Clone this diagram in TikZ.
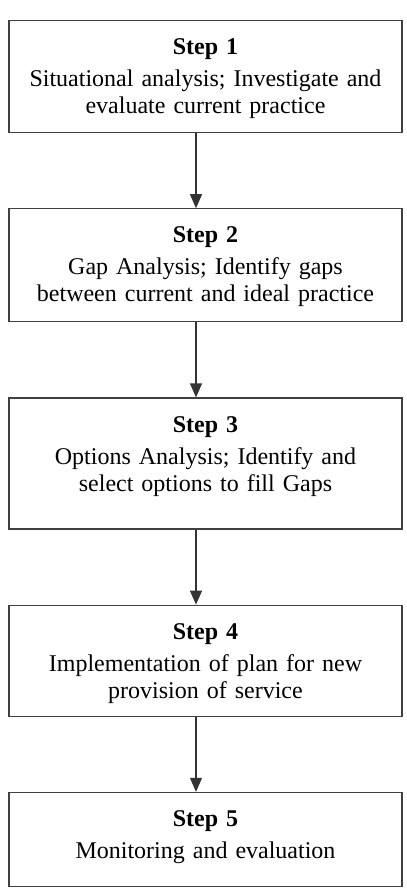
\documentclass[tikz,border=0pt]{standalone}
\usepackage{fontspec}
\setmainfont{Liberation Serif}
\usepackage{tikz}
\usetikzlibrary{arrows.meta,positioning}

\begin{document}
\begin{tikzpicture}[
  x=1pt, y=1pt,
  node distance=75pt,
  every node/.style={font=\fontsize{24}{27}\selectfont},
  stepbox/.style={rectangle, draw=black!75, line width=1.2pt,
    text width=393pt, align=center, inner xsep=0pt, inner ysep=0pt,
    text height=34pt},
  steparrow/.style={-{Triangle[width=12pt,length=14pt]}, draw=black!80, line width=1.2pt}
]
\useasboundingbox (0,0) rectangle (407,-892);
\node[stepbox, text depth=78pt, anchor=north] (n1) at (205.5,-20)
  {\textbf{Step 1}\\[5pt]Situational analysis; Investigate and\\evaluate current practice};
\node[stepbox, text depth=79pt, below=of n1] (n2)
  {\textbf{Step 2}\\[5pt]Gap Analysis; Identify gaps\\between current and ideal practice};
\node[stepbox, text depth=97pt, below=of n2] (n3)
  {\textbf{Step 3}\\[5pt]Options Analysis; Identify and\\select options to fill Gaps};
\node[stepbox, text depth=77pt, below=of n3] (n4)
  {\textbf{Step 4}\\[5pt]Implementation of plan for new\\provision of service};
\node[stepbox, text depth=60pt, below=of n4] (n5)
  {\textbf{Step 5}\\[5pt]Monitoring and evaluation};
\draw[steparrow] ([xshift=-9.5pt]n1.south) -- ([xshift=-9.5pt]n2.north);
\draw[steparrow] ([xshift=-9.5pt]n2.south) -- ([xshift=-9.5pt]n3.north);
\draw[steparrow] ([xshift=-9.5pt]n3.south) -- ([xshift=-9.5pt]n4.north);
\draw[steparrow] ([xshift=-9.5pt]n4.south) -- ([xshift=-9.5pt]n5.north);
\end{tikzpicture}
\end{document}
